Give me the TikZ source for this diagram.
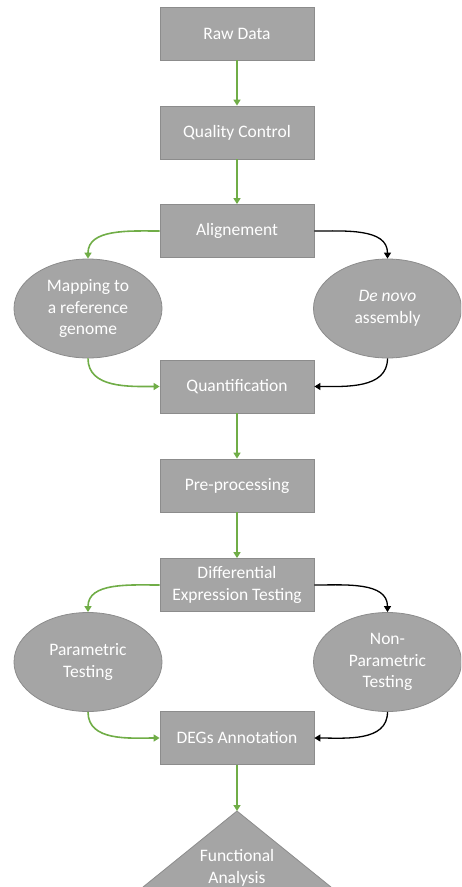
\documentclass[tikz,border=0pt]{standalone}
\usepackage{fontspec}
\setmainfont{Carlito}
\usetikzlibrary{shapes.geometric,arrows.meta}
\definecolor{boxfill}{HTML}{A5A5A5}
\definecolor{boxline}{HTML}{8C8C8C}
\definecolor{grn}{HTML}{70AD47}
\tikzset{
  stepbox/.style={rectangle,draw=boxline,fill=boxfill,line width=0.8pt,minimum width=154pt,minimum height=53pt,inner sep=0pt,text=white,align=center,font=\fontsize{17.5}{21.5}\selectfont},
  oval/.style={ellipse,draw=boxline,fill=boxfill,line width=0.8pt,minimum width=148pt,minimum height=99pt,inner sep=0pt,text=white,align=center,font=\fontsize{17.5}{21.5}\selectfont},
  garrow/.style={draw=grn,line width=1.6pt,-{Triangle[length=6pt,width=7pt]}},
  karrow/.style={draw=black,line width=1.3pt,-{Triangle[length=6pt,width=7pt]}}
}
\begin{document}
\begin{tikzpicture}[x=1pt,y=-1pt]
\useasboundingbox (0,0) rectangle (461,887);
\clip (0,0) rectangle (461,887);
\node[stepbox] (raw) at (237,33.5) {Raw Data};
\node[stepbox] (qc) at (237,132.5) {Quality Control};
\node[stepbox] (ali) at (237,231) {Alignement};
\node[oval] (map) at (88,308.5) {Mapping to\\a reference\\genome};
\node[oval] (denovo) at (387.5,308.5) {\textit{De novo}\\assembly};
\node[stepbox] (quant) at (237,386.5) {Quantification};
\node[stepbox] (pre) at (237,485.5) {Pre-processing};
\node[stepbox] (diff) at (237,585) {Differential\\Expression Testing};
\node[oval] (par) at (88,662) {Parametric\\Testing};
\node[oval] (npar) at (387.5,662) {Non-\\Parametric\\Testing};
\node[stepbox] (deg) at (237,738) {DEGs Annotation};
\fill[boxfill] (237,811) -- (127,900) -- (347,900) -- cycle;
\draw[boxline,line width=0.8pt] (127,900) -- (237,811) -- (347,900);
\coordinate (func) at (237,811);
\node[text=white,align=center,font=\fontsize{17.5}{21.5}\selectfont] (functxt) at (237,868) {Functional\\Analysis};
\draw[garrow] (raw.south) -- (qc.north);
\draw[garrow] (qc.south) -- (ali.north);
\draw[garrow] (ali.west) to[out=180,in=90] (map.north);
\draw[karrow] (ali.east) to[out=0,in=90] (denovo.north);
\draw[garrow] (map.south) to[out=-90,in=180] (quant.west);
\draw[karrow] (denovo.south) to[out=-90,in=0] (quant.east);
\draw[garrow] (quant.south) -- (pre.north);
\draw[garrow] (pre.south) -- (diff.north);
\draw[garrow] (diff.west) to[out=180,in=90] (par.north);
\draw[karrow] (diff.east) to[out=0,in=90] (npar.north);
\draw[garrow] (par.south) to[out=-90,in=180] (deg.west);
\draw[karrow] (npar.south) to[out=-90,in=0] (deg.east);
\draw[garrow] (deg.south) -- (func);
\end{tikzpicture}
\end{document}
